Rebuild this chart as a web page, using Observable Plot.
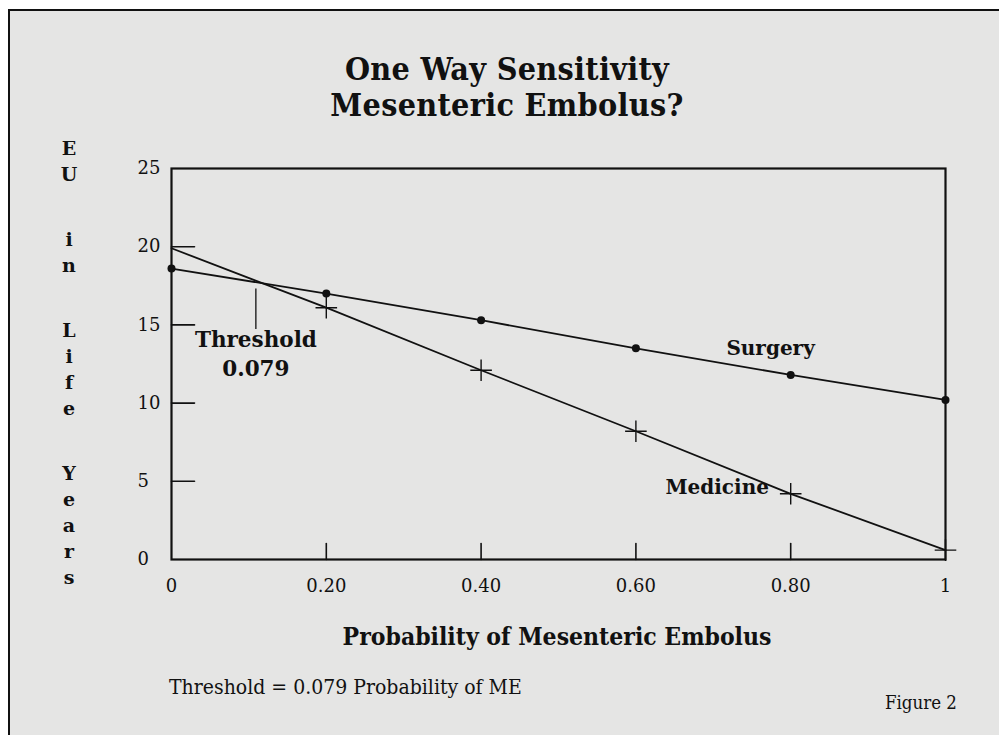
<!DOCTYPE html>
<html><head><meta charset="utf-8">
<script src="https://cdn.jsdelivr.net/npm/d3@7"></script>
<script src="https://cdn.jsdelivr.net/npm/@observablehq/plot@0.6"></script>
<style>
html,body{margin:0;padding:0;background:#fff;width:999px;height:735px;overflow:hidden;}
#page{position:absolute;left:8px;top:9px;width:991px;height:726px;background:#e5e5e4;border-top:2px solid #111;border-left:2px solid #111;box-sizing:border-box;}
#chart{position:absolute;left:0;top:0;}
.t{position:absolute;white-space:nowrap;font-family:"DejaVu Serif",serif;color:#111;line-height:1;}
.c{transform:translateX(-50%);}
.cond{font-family:"DejaVu Serif Condensed","DejaVu Serif",serif;}
#ylab{position:absolute;left:69px;top:135px;transform:translateX(-50%);font-family:"DejaVu Serif",serif;font-weight:bold;font-size:19px;color:#111;text-align:center;}
#ylab .w{margin-bottom:39px;}
#ylab .l{height:26px;line-height:26px;}
</style></head><body>
<div id="page"></div>
<div id="chart"></div>
<div class="t c cond" style="left:507px;top:53px;font-size:32px;font-weight:bold;letter-spacing:0.3px;">One Way Sensitivity</div>
<div class="t c cond" style="left:507px;top:89px;font-size:32px;font-weight:bold;letter-spacing:0.3px;">Mesenteric Embolus?</div>
<div id="ylab"></div>
<div class="t c cond" style="left:557px;top:625px;font-size:24.5px;font-weight:bold;">Probability of Mesenteric Embolus</div>
<div class="t cond" style="left:169px;top:677px;font-size:21px;">Threshold = 0.079 Probability of ME</div>
<div class="t cond" style="left:885px;top:694px;font-size:18.5px;">Figure 2</div>
<script>
// ---- data ----
const probME = [0, 0.2, 0.4, 0.6, 0.8, 1];
const surgeryEU = [18.6, 17.0, 15.3, 13.5, 11.8, 10.2];
const medicineEU = [19.9, 16.1, 12.1, 8.2, 4.2, 0.6];
const xTickValues = [0, 0.2, 0.4, 0.6, 0.8, 1];
const xTickLabels = ["0", "0.20", "0.40", "0.60", "0.80", "1"];
const yTickValues = [0, 5, 10, 15, 20, 25];
const yTickLabels = ["0", "5", "10", "15", "20", "25"];
const xInnerTicks = [0.2, 0.4, 0.6, 0.8];
const yInnerTicks = [5, 10, 15, 20];
const thresholdMarkX = [0.109];
const thresholdMarkY = [14.7, 17.3];
const thresholdText = ["Threshold", "0.079"];
const thresholdTextY = [14.0, 12.2];
const seriesNames = ["Surgery", "Medicine"];
const seriesLabelX = [0.774, 0.705];
const seriesLabelY = [13.5, 4.6];
const yAxisWords = ["EU", "in", "Life", "Years"];

// ---- build ----
const surgery = probME.map((p, i) => ({p, eu: surgeryEU[i]}));
const medicine = probME.map((p, i) => ({p, eu: medicineEU[i]}));
const medicineMarks = medicine.filter(d => d.p > 0);
const threshRule = thresholdMarkX.map(x => ({x, y1: thresholdMarkY[0], y2: thresholdMarkY[1]}));
const threshLabels = thresholdText.map((t, i) => ({t, x: thresholdMarkX[0], y: thresholdTextY[i]}));
const seriesLbl = seriesNames.map((t, i) => ({t, x: seriesLabelX[i], y: seriesLabelY[i]}));
const font = "DejaVu Serif, serif";
const ink = "#111";
const stick = {draw(context, l) { context.moveTo(0, 0); context.lineTo(0, -l); }};

const chart = Plot.plot({
  width: 999, height: 735,
  marginTop: 168, marginBottom: 176, marginLeft: 171, marginRight: 54,
  style: {background: "transparent", fontFamily: font, color: ink},
  x: {domain: [0, 1], axis: null},
  y: {domain: [0, 25], axis: null},
  marks: [
    Plot.frame({stroke: ink, strokeWidth: 2.2}),
    Plot.vector(xInnerTicks, {x: d => d, y: 0, length: 16, rotate: 0, anchor: "start", shape: stick, stroke: ink, strokeWidth: 1.6}),
    Plot.vector(yInnerTicks, {x: 0, y: d => d, length: 23, rotate: 90, anchor: "start", shape: stick, stroke: ink, strokeWidth: 1.6}),
    Plot.text(yTickValues, {x: 0, y: d => d, text: (d, i) => yTickLabels[i], textAnchor: "start", dx: -34, fontSize: 18, fontFamily: font, fill: ink}),
    Plot.text(xTickValues, {x: d => d, y: 0, text: (d, i) => xTickLabels[i], dy: 27, fontSize: 18, fontFamily: font, fill: ink}),
    Plot.line(surgery, {x: "p", y: "eu", stroke: ink, strokeWidth: 1.8}),
    Plot.line(medicine, {x: "p", y: "eu", stroke: ink, strokeWidth: 1.8}),
    Plot.dot(surgery, {x: "p", y: "eu", r: 4, fill: ink, stroke: "none"}),
    Plot.dot(medicineMarks, {x: "p", y: "eu", symbol: "plus", r: 7, stroke: ink, strokeWidth: 1.4}),
    Plot.ruleX(threshRule, {x: "x", y1: "y1", y2: "y2", stroke: ink, strokeWidth: 1.3}),
    Plot.text(threshLabels, {x: "x", y: "y", text: "t", fontSize: 21.5, fontWeight: "bold", fontFamily: font, fill: ink}),
    Plot.text(seriesLbl, {x: "x", y: "y", text: "t", fontSize: 20, fontWeight: "bold", fontFamily: font, fill: ink})
  ]
});
document.getElementById("chart").appendChild(chart);

const ylab = document.getElementById("ylab");
yAxisWords.forEach(w => {
  const wd = document.createElement("div");
  wd.className = "w";
  for (const ch of w) {
    const l = document.createElement("div");
    l.className = "l";
    l.textContent = ch;
    wd.appendChild(l);
  }
  ylab.appendChild(wd);
});
</script>
</body></html>
